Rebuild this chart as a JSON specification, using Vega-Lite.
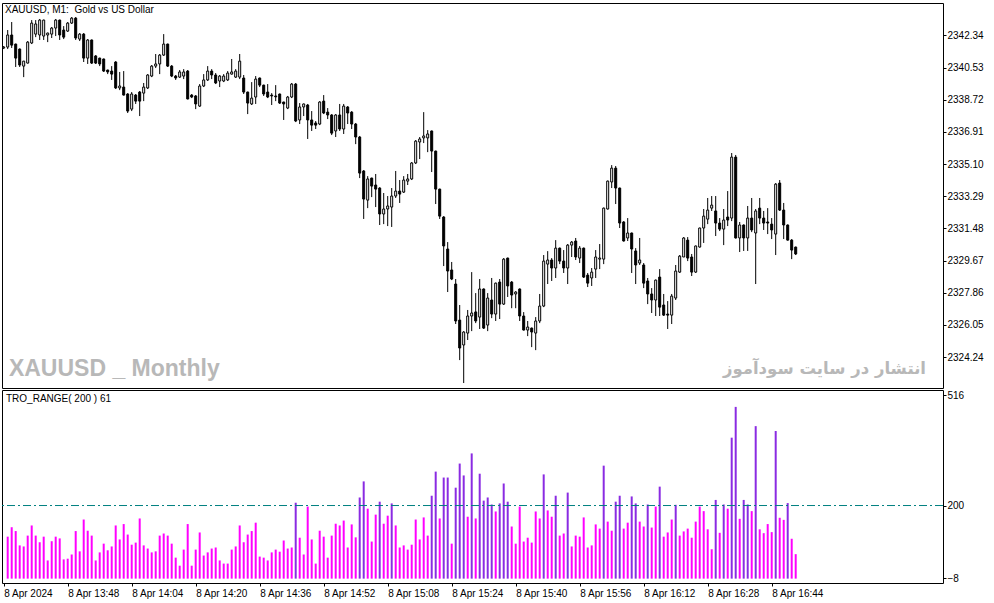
{
"$schema":"https://vega.github.io/schema/vega-lite/v6.json",
"autosize":{"type":"pad"},
"padding":{"left":1,"top":2,"right":0,"bottom":0},
"background":"white",
"bounds":"flush",
"spacing":2,
"config":{"view":{"stroke":"#000","strokeWidth":1},"font":"Liberation Sans","axis":{"domain":false,"grid":false,"tickColor":"#000","tickSize":3,"labelColor":"#000","labelFont":"Liberation Sans","labelFontSize":10,"labelOverlap":false,"labelFlush":false,"labelBound":false},"axisY":{"labelOverlap":false}},
"datasets":{
"candles":[
{"i":0,"open":2341.63,"high":2341.74,"low":2341.57,"close":2341.68},
{"i":1,"open":2341.68,"high":2342.64,"low":2341.57,"close":2342.36},
{"i":2,"open":2342.36,"high":2343.09,"low":2341.63,"close":2341.79},
{"i":3,"open":2341.85,"high":2341.87,"low":2340.56,"close":2341.06},
{"i":4,"open":2341.57,"high":2341.6,"low":2340.56,"close":2340.67},
{"i":5,"open":2340.61,"high":2340.9,"low":2339.99,"close":2340.89},
{"i":6,"open":2340.78,"high":2342.02,"low":2340.76,"close":2341.96},
{"i":7,"open":2341.91,"high":2343.2,"low":2341.85,"close":2343.03},
{"i":8,"open":2342.41,"high":2343.2,"low":2342.24,"close":2342.98},
{"i":9,"open":2342.36,"high":2343.26,"low":2342.08,"close":2343.2},
{"i":10,"open":2342.3,"high":2343.22,"low":2342.08,"close":2343.2},
{"i":11,"open":2342.36,"high":2342.49,"low":2341.96,"close":2342.47},
{"i":12,"open":2342.41,"high":2342.81,"low":2342.19,"close":2342.75},
{"i":13,"open":2342.75,"high":2343.26,"low":2342.3,"close":2343.2},
{"i":14,"open":2343.2,"high":2343.22,"low":2342.08,"close":2342.36},
{"i":15,"open":2342.64,"high":2342.86,"low":2342.13,"close":2342.24},
{"i":16,"open":2342.58,"high":2343.09,"low":2342.53,"close":2343.03},
{"i":17,"open":2343.03,"high":2343.37,"low":2342.98,"close":2343.31},
{"i":18,"open":2343.31,"high":2343.37,"low":2342.08,"close":2342.19},
{"i":19,"open":2342.13,"high":2342.47,"low":2342.02,"close":2342.41},
{"i":20,"open":2342.41,"high":2342.47,"low":2340.84,"close":2341.06},
{"i":21,"open":2341.06,"high":2342.13,"low":2340.73,"close":2342.08},
{"i":22,"open":2342.08,"high":2342.1,"low":2340.73,"close":2340.78},
{"i":23,"open":2341.18,"high":2341.23,"low":2340.73,"close":2340.78},
{"i":24,"open":2341.06,"high":2341.08,"low":2340.61,"close":2340.73},
{"i":25,"open":2341.01,"high":2341.03,"low":2340.28,"close":2340.33},
{"i":26,"open":2340.39,"high":2340.4,"low":2340.16,"close":2340.28},
{"i":27,"open":2340.33,"high":2340.61,"low":2339.83,"close":2340.16},
{"i":28,"open":2340.84,"high":2340.89,"low":2339.32,"close":2339.38},
{"i":29,"open":2339.38,"high":2340.28,"low":2339.26,"close":2339.49},
{"i":30,"open":2339.43,"high":2340.33,"low":2338.96,"close":2338.98},
{"i":31,"open":2339.04,"high":2339.09,"low":2337.97,"close":2338.08},
{"i":32,"open":2338.19,"high":2339.15,"low":2338.08,"close":2339.04},
{"i":33,"open":2338.98,"high":2339.04,"low":2338.48,"close":2338.64},
{"i":34,"open":2339.15,"high":2339.21,"low":2337.8,"close":2338.64},
{"i":35,"open":2339.09,"high":2339.66,"low":2338.64,"close":2339.43},
{"i":36,"open":2339.38,"high":2340.16,"low":2339.32,"close":2340.11},
{"i":37,"open":2340.05,"high":2340.67,"low":2339.99,"close":2340.61},
{"i":38,"open":2340.61,"high":2341.29,"low":2340.5,"close":2340.73},
{"i":39,"open":2340.73,"high":2341.29,"low":2340.16,"close":2341.23},
{"i":40,"open":2341.23,"high":2342.41,"low":2341.18,"close":2341.85},
{"i":41,"open":2341.85,"high":2341.87,"low":2340.56,"close":2340.61},
{"i":42,"open":2340.61,"high":2340.67,"low":2339.99,"close":2340.05},
{"i":43,"open":2340.05,"high":2340.11,"low":2339.83,"close":2339.94},
{"i":44,"open":2339.99,"high":2340.39,"low":2339.94,"close":2340.28},
{"i":45,"open":2340.05,"high":2340.44,"low":2339.88,"close":2340.28},
{"i":46,"open":2340.33,"high":2340.39,"low":2338.74,"close":2338.76},
{"i":47,"open":2338.98,"high":2339.04,"low":2338.81,"close":2338.87},
{"i":48,"open":2338.93,"high":2338.98,"low":2338.19,"close":2338.48},
{"i":49,"open":2338.36,"high":2339.6,"low":2338.31,"close":2339.49},
{"i":50,"open":2339.49,"high":2340.16,"low":2339.43,"close":2339.83},
{"i":51,"open":2339.83,"high":2340.61,"low":2339.77,"close":2340.33},
{"i":52,"open":2340.33,"high":2340.44,"low":2339.88,"close":2340.11},
{"i":53,"open":2340.11,"high":2340.22,"low":2339.6,"close":2339.66},
{"i":54,"open":2339.77,"high":2340.11,"low":2339.43,"close":2340.05},
{"i":55,"open":2339.77,"high":2340.16,"low":2339.71,"close":2340.05},
{"i":56,"open":2339.83,"high":2340.33,"low":2339.77,"close":2340.22},
{"i":57,"open":2340.16,"high":2341.01,"low":2340.14,"close":2340.28},
{"i":58,"open":2339.99,"high":2340.44,"low":2339.94,"close":2340.33},
{"i":59,"open":2339.99,"high":2341.29,"low":2339.88,"close":2340.89},
{"i":60,"open":2339.94,"high":2340.11,"low":2339.04,"close":2339.15},
{"i":61,"open":2339.15,"high":2339.17,"low":2337.91,"close":2338.53},
{"i":62,"open":2338.48,"high":2339.71,"low":2338.42,"close":2338.81},
{"i":63,"open":2338.87,"high":2340.05,"low":2338.48,"close":2339.88},
{"i":64,"open":2339.94,"high":2339.96,"low":2339.43,"close":2339.54},
{"i":65,"open":2339.54,"high":2339.56,"low":2338.93,"close":2339.04},
{"i":66,"open":2339.15,"high":2339.6,"low":2338.81,"close":2338.87},
{"i":67,"open":2338.98,"high":2339.09,"low":2338.42,"close":2338.93},
{"i":68,"open":2338.93,"high":2339.54,"low":2338.64,"close":2338.88},
{"i":69,"open":2339.04,"high":2339.06,"low":2338.48,"close":2338.53},
{"i":70,"open":2338.59,"high":2338.6,"low":2337.58,"close":2338.48},
{"i":71,"open":2338.25,"high":2338.93,"low":2338.19,"close":2338.87},
{"i":72,"open":2338.87,"high":2339.66,"low":2338.81,"close":2339.6},
{"i":73,"open":2339.6,"high":2339.66,"low":2337.46,"close":2337.52},
{"i":74,"open":2337.58,"high":2338.53,"low":2337.35,"close":2338.31},
{"i":75,"open":2338.31,"high":2338.5,"low":2337.8,"close":2338.48},
{"i":76,"open":2338.42,"high":2338.48,"low":2336.51,"close":2337.58},
{"i":77,"open":2337.58,"high":2338.08,"low":2336.96,"close":2337.29},
{"i":78,"open":2337.41,"high":2337.52,"low":2337.07,"close":2337.29},
{"i":79,"open":2337.35,"high":2338.64,"low":2337.29,"close":2338.59},
{"i":80,"open":2338.64,"high":2338.98,"low":2337.91,"close":2337.97},
{"i":81,"open":2338.02,"high":2338.25,"low":2337.63,"close":2337.86},
{"i":82,"open":2337.86,"high":2337.91,"low":2336.73,"close":2336.84},
{"i":83,"open":2336.96,"high":2337.91,"low":2336.62,"close":2337.86},
{"i":84,"open":2337.86,"high":2338.48,"low":2336.96,"close":2337.07},
{"i":85,"open":2337.07,"high":2338.48,"low":2336.79,"close":2338.36},
{"i":86,"open":2338.31,"high":2338.36,"low":2337.35,"close":2337.97},
{"i":87,"open":2338.02,"high":2338.08,"low":2337.07,"close":2337.35},
{"i":88,"open":2337.35,"high":2337.41,"low":2336.22,"close":2336.62},
{"i":89,"open":2336.62,"high":2336.68,"low":2334.31,"close":2334.59},
{"i":90,"open":2334.71,"high":2334.76,"low":2332.01,"close":2333.13},
{"i":91,"open":2333.07,"high":2334.42,"low":2332.62,"close":2334.26},
{"i":92,"open":2334.31,"high":2334.33,"low":2333.24,"close":2333.86},
{"i":93,"open":2333.92,"high":2334.54,"low":2332.68,"close":2333.69},
{"i":94,"open":2333.75,"high":2333.8,"low":2331.67,"close":2332.29},
{"i":95,"open":2332.29,"high":2333.47,"low":2331.72,"close":2332.57},
{"i":96,"open":2332.57,"high":2333.3,"low":2331.61,"close":2332.74},
{"i":97,"open":2332.68,"high":2333.75,"low":2331.56,"close":2333.3},
{"i":98,"open":2333.3,"high":2334.71,"low":2333.19,"close":2333.58},
{"i":99,"open":2333.58,"high":2334.2,"low":2332.91,"close":2333.41},
{"i":100,"open":2333.52,"high":2334.42,"low":2333.47,"close":2334.2},
{"i":101,"open":2334.14,"high":2334.54,"low":2333.92,"close":2334.26},
{"i":102,"open":2334.26,"high":2335.21,"low":2334.2,"close":2335.16},
{"i":103,"open":2335.16,"high":2336.45,"low":2335.1,"close":2336.39},
{"i":104,"open":2336.34,"high":2336.62,"low":2335.38,"close":2336.51},
{"i":105,"open":2336.57,"high":2338.02,"low":2336.28,"close":2336.68},
{"i":106,"open":2336.57,"high":2337.01,"low":2335.77,"close":2336.79},
{"i":107,"open":2336.96,"high":2336.98,"low":2334.65,"close":2335.83},
{"i":108,"open":2335.83,"high":2335.85,"low":2332.85,"close":2333.69},
{"i":109,"open":2333.69,"high":2333.71,"low":2332.01,"close":2332.17},
{"i":110,"open":2332.12,"high":2332.17,"low":2329.36,"close":2330.49},
{"i":111,"open":2330.32,"high":2330.71,"low":2327.9,"close":2329.08},
{"i":112,"open":2329.14,"high":2329.59,"low":2328.57,"close":2328.63},
{"i":113,"open":2328.35,"high":2328.63,"low":2326.1,"close":2326.27},
{"i":114,"open":2326.32,"high":2327.17,"low":2324.07,"close":2324.75},
{"i":115,"open":2324.92,"high":2325.7,"low":2322.78,"close":2325.65},
{"i":116,"open":2325.59,"high":2326.89,"low":2325.2,"close":2326.55},
{"i":117,"open":2326.55,"high":2329.02,"low":2325.7,"close":2326.72},
{"i":118,"open":2326.78,"high":2327.84,"low":2326.15,"close":2326.27},
{"i":119,"open":2326.49,"high":2328.63,"low":2325.82,"close":2328.07},
{"i":120,"open":2328.07,"high":2328.1,"low":2325.82,"close":2325.87},
{"i":121,"open":2326.04,"high":2327.84,"low":2325.7,"close":2327.56},
{"i":122,"open":2327.45,"high":2328.69,"low":2326.43,"close":2326.66},
{"i":123,"open":2326.66,"high":2328.43,"low":2326.27,"close":2328.4},
{"i":124,"open":2328.46,"high":2328.63,"low":2326.38,"close":2327.22},
{"i":125,"open":2327.22,"high":2329.81,"low":2327.17,"close":2329.75},
{"i":126,"open":2329.81,"high":2329.83,"low":2327.62,"close":2328.24},
{"i":127,"open":2328.46,"high":2328.52,"low":2326.99,"close":2327.73},
{"i":128,"open":2327.79,"high":2327.95,"low":2326.99,"close":2327.9},
{"i":129,"open":2328.07,"high":2328.1,"low":2326.27,"close":2326.55},
{"i":130,"open":2326.55,"high":2326.77,"low":2325.74,"close":2325.76},
{"i":131,"open":2325.76,"high":2326.27,"low":2325.42,"close":2325.93},
{"i":132,"open":2325.87,"high":2325.9,"low":2324.8,"close":2325.65},
{"i":133,"open":2325.59,"high":2326.49,"low":2324.63,"close":2326.27},
{"i":134,"open":2326.27,"high":2327.79,"low":2326.15,"close":2327.11},
{"i":135,"open":2327.11,"high":2329.98,"low":2327.05,"close":2329.64},
{"i":136,"open":2329.47,"high":2330.2,"low":2328.35,"close":2329.7},
{"i":137,"open":2329.7,"high":2329.81,"low":2328.52,"close":2329.25},
{"i":138,"open":2329.25,"high":2330.82,"low":2328.69,"close":2330.37},
{"i":139,"open":2330.37,"high":2330.4,"low":2329.47,"close":2329.64},
{"i":140,"open":2329.64,"high":2330.26,"low":2328.97,"close":2329.25},
{"i":141,"open":2329.25,"high":2330.6,"low":2328.35,"close":2330.54},
{"i":142,"open":2330.54,"high":2330.77,"low":2329.87,"close":2330.71},
{"i":143,"open":2330.77,"high":2330.94,"low":2329.7,"close":2329.87},
{"i":144,"open":2329.81,"high":2330.49,"low":2329.53,"close":2330.37},
{"i":145,"open":2330.37,"high":2330.4,"low":2328.69,"close":2328.74},
{"i":146,"open":2328.85,"high":2328.97,"low":2328.18,"close":2328.4},
{"i":147,"open":2328.69,"high":2329.25,"low":2328.24,"close":2329.02},
{"i":148,"open":2329.19,"high":2330.26,"low":2328.69,"close":2329.87},
{"i":149,"open":2329.75,"high":2330.6,"low":2329.19,"close":2329.81},
{"i":150,"open":2329.75,"high":2332.65,"low":2329.47,"close":2332.62},
{"i":151,"open":2332.57,"high":2334.17,"low":2332.54,"close":2334.14},
{"i":152,"open":2334.09,"high":2335.04,"low":2333.75,"close":2334.87},
{"i":153,"open":2334.87,"high":2334.99,"low":2332.85,"close":2333.75},
{"i":154,"open":2333.75,"high":2333.77,"low":2331.5,"close":2331.78},
{"i":155,"open":2331.84,"high":2331.89,"low":2330.74,"close":2330.77},
{"i":156,"open":2330.94,"high":2332.06,"low":2330.77,"close":2331.22},
{"i":157,"open":2331.22,"high":2331.24,"low":2328.97,"close":2330.32},
{"i":158,"open":2330.21,"high":2330.37,"low":2328.35,"close":2329.42},
{"i":159,"open":2329.53,"high":2330.94,"low":2329.42,"close":2329.7},
{"i":160,"open":2329.42,"high":2329.53,"low":2328.12,"close":2328.4},
{"i":161,"open":2328.52,"high":2328.69,"low":2327.22,"close":2327.79},
{"i":162,"open":2327.79,"high":2328.12,"low":2326.72,"close":2327.45},
{"i":163,"open":2327.45,"high":2328.6,"low":2326.55,"close":2328.57},
{"i":164,"open":2328.74,"high":2329.19,"low":2326.55,"close":2327.05},
{"i":165,"open":2327.17,"high":2327.79,"low":2326.55,"close":2326.6},
{"i":166,"open":2326.66,"high":2327.39,"low":2325.82,"close":2326.6},
{"i":167,"open":2326.6,"high":2327.79,"low":2326.1,"close":2327.67},
{"i":168,"open":2327.56,"high":2329.42,"low":2327.45,"close":2329.08},
{"i":169,"open":2329.02,"high":2329.98,"low":2328.97,"close":2329.92},
{"i":170,"open":2329.87,"high":2330.99,"low":2329.87,"close":2330.94},
{"i":171,"open":2330.82,"high":2330.99,"low":2329.64,"close":2329.81},
{"i":172,"open":2329.87,"high":2330.04,"low":2328.8,"close":2329.02},
{"i":173,"open":2329.02,"high":2330.51,"low":2328.97,"close":2330.49},
{"i":174,"open":2330.43,"high":2331.52,"low":2330.4,"close":2331.5},
{"i":175,"open":2331.5,"high":2332.57,"low":2330.66,"close":2332.17},
{"i":176,"open":2332.0,"high":2333.19,"low":2331.72,"close":2332.51},
{"i":177,"open":2332.62,"high":2333.3,"low":2332.46,"close":2332.79},
{"i":178,"open":2332.46,"high":2333.3,"low":2331.05,"close":2331.78},
{"i":179,"open":2331.78,"high":2332.06,"low":2331.33,"close":2331.44},
{"i":180,"open":2331.44,"high":2332.57,"low":2330.54,"close":2331.95},
{"i":181,"open":2332.12,"high":2333.58,"low":2331.61,"close":2331.95},
{"i":182,"open":2332.06,"high":2335.72,"low":2331.89,"close":2335.49},
{"i":183,"open":2335.49,"high":2335.61,"low":2330.91,"close":2330.94},
{"i":184,"open":2330.94,"high":2331.84,"low":2330.15,"close":2331.67},
{"i":185,"open":2331.67,"high":2331.7,"low":2330.21,"close":2330.94},
{"i":186,"open":2330.94,"high":2332.74,"low":2330.21,"close":2332.06},
{"i":187,"open":2332.06,"high":2333.19,"low":2331.27,"close":2331.39},
{"i":188,"open":2331.22,"high":2332.57,"low":2328.35,"close":2332.46},
{"i":189,"open":2332.62,"high":2333.19,"low":2331.72,"close":2332.06},
{"i":190,"open":2332.06,"high":2332.46,"low":2331.39,"close":2331.78},
{"i":191,"open":2331.84,"high":2332.62,"low":2331.16,"close":2331.78},
{"i":192,"open":2331.72,"high":2332.06,"low":2330.88,"close":2331.39},
{"i":193,"open":2331.16,"high":2334.03,"low":2329.98,"close":2333.97},
{"i":194,"open":2334.03,"high":2334.2,"low":2332.46,"close":2332.51},
{"i":195,"open":2332.51,"high":2332.91,"low":2330.88,"close":2331.67},
{"i":196,"open":2331.67,"high":2331.7,"low":2330.8,"close":2330.82},
{"i":197,"open":2330.82,"high":2330.88,"low":2329.75,"close":2330.26},
{"i":198,"open":2330.43,"high":2330.45,"low":2329.98,"close":2330.04}
],
"tro":[
{"i":1,"range":111},{"i":2,"range":138},{"i":3,"range":127},{"i":4,"range":86},{"i":5,"range":83},{"i":6,"range":114},{"i":7,"range":143},{"i":8,"range":114},{"i":9,"range":95},{"i":10,"range":111},
{"i":11,"range":43},{"i":12,"range":98},{"i":13,"range":111},{"i":14,"range":106},{"i":15,"range":46},{"i":16,"range":48},{"i":17,"range":60},{"i":18,"range":127},{"i":19,"range":69},{"i":20,"range":160},
{"i":21,"range":128},{"i":22,"range":114},{"i":23,"range":43},{"i":24,"range":66},{"i":25,"range":91},{"i":26,"range":72},{"i":27,"range":83},{"i":28,"range":143},{"i":29,"range":103},{"i":30,"range":147},
{"i":31,"range":117},{"i":32,"range":88},{"i":33,"range":94},{"i":34,"range":163},{"i":35,"range":86},{"i":36,"range":77},{"i":37,"range":66},{"i":38,"range":69},{"i":39,"range":114},{"i":40,"range":120},
{"i":41,"range":114},{"i":42,"range":91},{"i":43,"range":51},{"i":44,"range":28},{"i":45,"range":74},{"i":46,"range":147},{"i":47,"range":28},{"i":48,"range":74},{"i":49,"range":123},{"i":50,"range":57},
{"i":51,"range":66},{"i":52,"range":77},{"i":53,"range":80},{"i":54,"range":43},{"i":55,"range":34},{"i":56,"range":34},{"i":57,"range":74},{"i":58,"range":83},{"i":59,"range":143},{"i":60,"range":95},
{"i":61,"range":117},{"i":62,"range":127},{"i":63,"range":151},{"i":64,"range":54},{"i":65,"range":51},{"i":66,"range":43},{"i":67,"range":66},{"i":68,"range":74},{"i":69,"range":68},{"i":70,"range":100},
{"i":71,"range":77},{"i":72,"range":80},{"i":73,"range":208},{"i":74,"range":108},{"i":75,"range":60},{"i":76,"range":197},{"i":77,"range":103},{"i":78,"range":34},{"i":79,"range":128},{"i":80,"range":111},
{"i":81,"range":51},{"i":82,"range":114},{"i":83,"range":148},{"i":84,"range":143},{"i":85,"range":157},{"i":86,"range":80},{"i":87,"range":146},{"i":88,"range":109},{"i":89,"range":223},{"i":90,"range":269},
{"i":91,"range":191},{"i":92,"range":97},{"i":93,"range":174},{"i":94,"range":211},{"i":95,"range":148},{"i":96,"range":171},{"i":97,"range":206},{"i":98,"range":143},{"i":99,"range":80},{"i":100,"range":86},
{"i":101,"range":74},{"i":102,"range":88},{"i":103,"range":160},{"i":104,"range":103},{"i":105,"range":166},{"i":106,"range":114},{"i":107,"range":228},{"i":108,"range":297},{"i":109,"range":163},{"i":110,"range":280},
{"i":111,"range":280},{"i":112,"range":91},{"i":113,"range":251},{"i":114,"range":320},{"i":115,"range":286},{"i":116,"range":168},{"i":117,"range":349},{"i":118,"range":163},{"i":119,"range":291},{"i":120,"range":214},
{"i":121,"range":223},{"i":122,"range":203},{"i":123,"range":183},{"i":124,"range":206},{"i":125,"range":263},{"i":126,"range":211},{"i":127,"range":140},{"i":128,"range":91},{"i":129,"range":197},{"i":130,"range":97},
{"i":131,"range":108},{"i":132,"range":94},{"i":133,"range":183},{"i":134,"range":163},{"i":135,"range":289},{"i":136,"range":186},{"i":137,"range":168},{"i":138,"range":228},{"i":139,"range":114},{"i":140,"range":120},
{"i":141,"range":237},{"i":142,"range":83},{"i":143,"range":114},{"i":144,"range":111},{"i":145,"range":166},{"i":146,"range":80},{"i":147,"range":86},{"i":148,"range":146},{"i":149,"range":134},{"i":150,"range":314},
{"i":151,"range":154},{"i":152,"range":128},{"i":153,"range":211},{"i":154,"range":228},{"i":155,"range":134},{"i":156,"range":151},{"i":157,"range":226},{"i":158,"range":206},{"i":159,"range":154},{"i":160,"range":140},
{"i":161,"range":203},{"i":162,"range":137},{"i":163,"range":197},{"i":164,"range":254},{"i":165,"range":111},{"i":166,"range":123},{"i":167,"range":160},{"i":168,"range":202},{"i":169,"range":114},{"i":170,"range":126},
{"i":171,"range":134},{"i":172,"range":108},{"i":173,"range":154},{"i":174,"range":197},{"i":175,"range":184},{"i":176,"range":132},{"i":177,"range":75},{"i":178,"range":216},{"i":179,"range":122},{"i":180,"range":203},
{"i":181,"range":191},{"i":182,"range":394},{"i":183,"range":482},{"i":184,"range":162},{"i":185,"range":216},{"i":186,"range":203},{"i":187,"range":184},{"i":188,"range":427},{"i":189,"range":132},{"i":190,"range":121},
{"i":191,"range":147},{"i":192,"range":124},{"i":193,"range":413},{"i":194,"range":165},{"i":195,"range":159},{"i":196,"range":207},{"i":197,"range":105},{"i":198,"range":61}
]
},
"vconcat":[
{
"width":941,"height":385,
"layer":[
{"data":{"name":"candles"},"mark":{"type":"rule","color":"#000","strokeWidth":1},
"encoding":{
"x":{"field":"i","type":"quantitative","scale":{"domain":[-0.425,234.825],"nice":false,"zero":false,"padding":0},"axis":null},
"y":{"field":"low","type":"quantitative","scale":{"domain":[2322.5,2344.16],"nice":false,"zero":false},
"axis":{"orient":"right","title":null,"values":[2324.24,2326.05,2327.86,2329.67,2331.48,2333.29,2335.1,2336.91,2338.72,2340.53,2342.34],"format":".2f","tickSize":3,"labelPadding":1,"labelOverlap":false,"labelFlush":false,"labelBound":false,"tickCount":11}},
"y2":{"field":"high"}}},
{"data":{"name":"candles"},"mark":{"type":"bar","orient":"vertical","size":2,"stroke":"#000","strokeWidth":1},
"encoding":{
"x":{"field":"i","type":"quantitative"},
"y":{"field":"open","type":"quantitative"},
"y2":{"field":"close"},
"fill":{"condition":{"test":"datum.close >= datum.open","value":"#ffffff"},"value":"#000000"}}},
{"data":{"values":[{"label":"XAUUSD, M1: \u00a0Gold vs US Dollar"}]},"mark":{"type":"text","align":"left","baseline":"middle","fontSize":10,"font":"Liberation Sans","color":"#000"},
"encoding":{"x":{"datum":0.325,"type":"quantitative"},"y":{"datum":2343.76,"type":"quantitative"},"text":{"field":"label"}}},
{"data":{"values":[{"label":"XAUUSD _ Monthly"}]},"mark":{"type":"text","align":"left","baseline":"middle","fontSize":23,"fontWeight":"bold","font":"Liberation Sans","color":"#b8b8b8"},
"encoding":{"x":{"datum":1.3,"type":"quantitative"},"y":{"datum":2323.57,"type":"quantitative"},"text":{"field":"label"}}},
{"data":{"values":[{"label":"انتشار در سایت سودآموز"}]},"mark":{"type":"text","align":"right","baseline":"middle","fontSize":16.5,"fontWeight":"bold","font":"DejaVu Sans","color":"#b8b8b8"},
"encoding":{"x":{"datum":230.575,"type":"quantitative"},"y":{"datum":2323.57,"type":"quantitative"},"text":{"field":"label"}}}
]
},
{
"width":941,"height":193,
"layer":[
{"data":{"name":"tro"},"mark":{"type":"bar","orient":"vertical","size":2},
"encoding":{
"x":{"field":"i","type":"quantitative","scale":{"domain":[-0.425,234.825],"nice":false,"zero":false,"padding":0},
"axis":{"orient":"bottom","title":null,"values":[0,16,32,48,64,80,96,112,128,144,160,176,192],"labelAlign":"left","labelPadding":2,"tickSize":3,"labelFlush":false,"labelOverlap":false,
"labelExpr":"datum.value == 0 ? '8 Apr 2024' : '8 Apr ' + floor((812 + datum.value) / 60) + ':' + (((812 + datum.value) % 60) < 10 ? '0' : '') + ((812 + datum.value) % 60)"}},
"y":{"field":"range","type":"quantitative","scale":{"domain":[-21.5,530.3],"nice":false,"zero":false},
"axis":{"orient":"right","title":null,"values":[516,200,-8],"format":"d","tickSize":3,"labelPadding":1,"labelOverlap":false,"labelFlush":false}},
"y2":{"datum":-9},
"color":{"condition":{"test":"datum.range > 200","value":"#8a2be2"},"value":"#ff00ff"}}},
{"data":{"values":[{"level":200}]},"mark":{"type":"rule","color":"#008080","strokeWidth":1,"strokeDash":[8,3,2,3]},
"encoding":{"y":{"field":"level","type":"quantitative"}}},
{"data":{"values":[{"label":"TRO_RANGE( 200 ) 61"}]},"mark":{"type":"text","align":"left","baseline":"middle","fontSize":10,"font":"Liberation Sans","color":"#000"},
"encoding":{"x":{"datum":0.575,"type":"quantitative"},"y":{"datum":504.6,"type":"quantitative"},"text":{"field":"label"}}}
]
}
]
}
